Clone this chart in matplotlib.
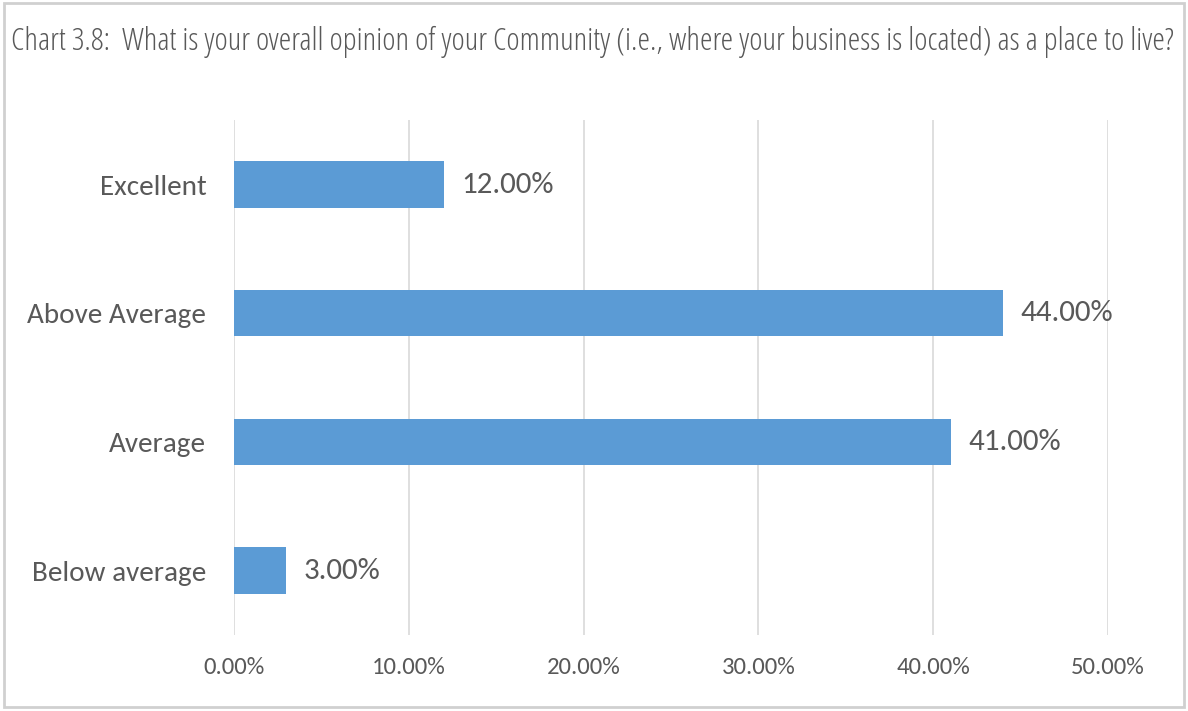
import matplotlib.pyplot as plt
from matplotlib.patches import Rectangle
from matplotlib.ticker import FuncFormatter

categories = ["Excellent", "Above Average", "Average", "Below average"]
shares = [12.0, 44.0, 41.0, 3.0]
x_ticks = [0, 10, 20, 30, 40, 50]

BAR_COLOR = "#5B9BD5"
TEXT_COLOR = "#595959"
GRID_COLOR = "#D9D9D9"
LABEL_FONT = ["Carlito", "Lato"]

fig = plt.figure(figsize=(11.88, 7.11), dpi=100)
ax = fig.add_axes([0.197, 0.107, 0.7357, 0.724])

pos = list(range(len(categories)))
ax.barh(pos, shares, height=0.36, color=BAR_COLOR, zorder=3)

for y, v in zip(pos, shares):
    ax.text(v + 1.0, y, f"{v:.2f}%", va="center", ha="left",
            fontsize=22.3, color=TEXT_COLOR, family=LABEL_FONT)

ax.set_ylim(len(categories) - 0.5, -0.5)
ax.set_xlim(0, 50)
ax.set_xticks(x_ticks)
ax.xaxis.set_major_formatter(FuncFormatter(lambda v, _: f"{v:.2f}%"))
ax.set_yticks(pos)
ax.set_yticklabels(categories)

ax.grid(axis="x", color=GRID_COLOR, linewidth=1.2, zorder=0)
ax.tick_params(axis="both", length=0, labelcolor=TEXT_COLOR)
ax.tick_params(axis="x", pad=16, labelsize=17.7)
ax.tick_params(axis="y", pad=20, labelsize=21)
for lab in ax.get_xticklabels() + ax.get_yticklabels():
    lab.set_family(LABEL_FONT)
for s in ax.spines.values():
    s.set_visible(False)

fig.text(0.009, 0.941, "Chart 3.8:  What is your overall opinion of your Community "
         "(i.e., where your business is located) as a place to live?",
         ha="left", va="center", fontsize=22.9, color=TEXT_COLOR,
         family="Open Sans", fontstretch="condensed")

# light grey frame round the whole chart
fig.patches.append(Rectangle((0.003, 0.006), 0.994, 0.99, transform=fig.transFigure,
                             fill=False, edgecolor="#D0D0D0", linewidth=2))

fig.savefig("out.png", dpi=100)
